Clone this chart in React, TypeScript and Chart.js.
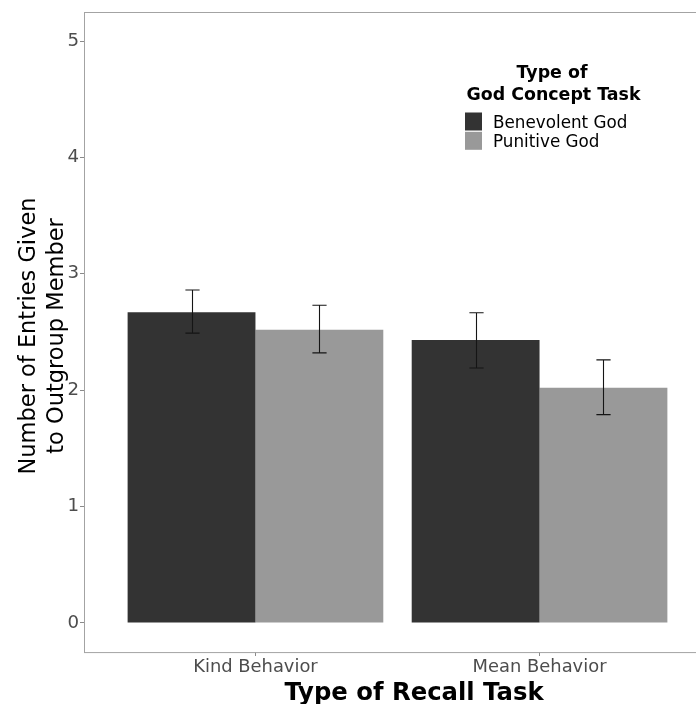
import React, { useEffect, useRef } from 'react';
import { Chart, registerables } from 'chart.js';
Chart.register(...registerables);

const FONT = '"DejaVu Sans", sans-serif';

const categories = ['Kind Behavior', 'Mean Behavior'];
const seriesNames = ['Benevolent God', 'Punitive God'];
const seriesColors = ['#333333', '#999999'];
const benevolentMeans = [2.67, 2.43];
const punitiveMeans = [2.52, 2.02];
const benevolentUpper = [2.86, 2.665];
const benevolentLower = [2.49, 2.19];
const punitiveUpper = [2.73, 2.26];
const punitiveLower = [2.32, 1.79];
const yTickValues = [0, 1, 2, 3, 4, 5];
const yTitleLines = ['Number of Entries Given', 'to Outgroup Member'];
const xTitle = 'Type of Recall Task';
const legendTitleLines = ['Type of', 'God Concept Task'];

export default function App() {
  const ref = useRef<HTMLCanvasElement>(null);

  useEffect(() => {
    const canvas = ref.current;
    if (!canvas) return;
    const means = [benevolentMeans, punitiveMeans];
    const errUpper = [benevolentUpper, punitiveUpper];
    const errLower = [benevolentLower, punitiveLower];
    const capWidth = 0.05;

    const overlay = {
      id: 'overlay',
      afterDatasetsDraw(chart: any) {
        const ctx = chart.ctx;
        const xs = chart.scales.x;
        const ys = chart.scales.y;
        const half = Math.abs(xs.getPixelForValue(1 + capWidth / 2) - xs.getPixelForValue(1));
        ctx.save();
        ctx.strokeStyle = '#151515';
        ctx.lineWidth = 1.1;
        chart.data.datasets.forEach((_ds: any, di: number) => {
          const meta = chart.getDatasetMeta(di);
          meta.data.forEach((bar: any, i: number) => {
            const cx = Math.round(bar.x) + 0.5;
            const yt = ys.getPixelForValue(errUpper[di][i]);
            const yb = ys.getPixelForValue(errLower[di][i]);
            ctx.beginPath();
            ctx.moveTo(cx, yt);
            ctx.lineTo(cx, yb);
            ctx.moveTo(cx - half, yt);
            ctx.lineTo(cx + half, yt);
            ctx.moveTo(cx - half, yb);
            ctx.lineTo(cx + half, yb);
            ctx.stroke();
          });
        });
        ctx.restore();
      },
      afterDraw(chart: any) {
        const ctx = chart.ctx;
        const a = chart.chartArea;
        ctx.save();
        // panel border
        ctx.strokeStyle = '#a3a3a3';
        ctx.lineWidth = 1;
        ctx.strokeRect(Math.round(a.left) - 0.5, Math.round(a.top) + 0.5, a.right - a.left, a.bottom - a.top);

        // y title
        ctx.fillStyle = '#000';
        ctx.font = `22.5px ${FONT}`;
        ctx.textAlign = 'center';
        ctx.textBaseline = 'alphabetic';
        ctx.save();
        ctx.translate(35, 336);
        ctx.rotate(-Math.PI / 2);
        yTitleLines.forEach((line, i) => ctx.fillText(line, 0, i * 28));
        ctx.restore();

        // x title
        ctx.font = `bold 24.3px ${FONT}`;
        ctx.textAlign = 'center';
        ctx.fillText(xTitle, 414, 700);

        // legend
        ctx.font = `bold 17.4px ${FONT}`;
        ctx.textAlign = 'center';
        ctx.fillText(legendTitleLines[0], 552, 78);
        ctx.fillText(legendTitleLines[1], 553.5, 100);
        ctx.font = `16.8px ${FONT}`;
        ctx.textAlign = 'left';
        seriesNames.forEach((name, i) => {
          const top = 112.5 + i * 19.3;
          ctx.fillStyle = seriesColors[i];
          ctx.fillRect(465, top, 17, 18);
          ctx.fillStyle = '#000';
          ctx.fillText(name, 493, top + 15.5);
        });
        ctx.restore();
      },
    };

    const chart = new Chart(canvas, {
      type: 'bar',
      data: {
        datasets: seriesNames.map((name, di) => ({
          label: name,
          data: means[di].map((v, i) => ({ x: i + 1, y: v })),
          backgroundColor: seriesColors[di],
          borderWidth: 0,
          categoryPercentage: 0.9,
          barPercentage: 1.0,
        })),
      },
      options: {
        animation: false,
        responsive: false,
        devicePixelRatio: 1,
        layout: { padding: { top: 9, right: 2, left: 0, bottom: 0 } },
        plugins: { legend: { display: false }, tooltip: { enabled: false } },
        scales: {
          x: {
            type: 'linear',
            min: 0.4,
            max: 2.6,
            offset: false,
            grid: { display: true, drawOnChartArea: false, offset: false, tickLength: 4, color: '#8a8a8a' },
            border: { display: false },
            afterBuildTicks: (scale: any) => {
              scale.ticks = categories.map((_c, i) => ({ value: i + 1 }));
            },
            afterFit: (scale: any) => {
              scale.height = 52;
            },
            ticks: {
              font: { family: FONT, size: 17.9 },
              color: '#4d4d4d',
              padding: 1,
              maxRotation: 0,
              autoSkip: false,
              callback: (v: any) => categories[Math.round(Number(v)) - 1] ?? '',
            },
          },
          y: {
            type: 'linear',
            min: -0.25,
            max: 5.25,
            grid: { display: true, drawOnChartArea: false, tickLength: 5, color: '#8a8a8a' },
            border: { display: false },
            afterBuildTicks: (scale: any) => {
              scale.ticks = yTickValues.map((v) => ({ value: v }));
            },
            afterFit: (scale: any) => {
              scale.width = 85;
            },
            ticks: {
              font: { family: FONT, size: 18.2 },
              color: '#4d4d4d',
              padding: 1,
              callback: (v: any) => String(v),
            },
          },
        },
      },
      plugins: [overlay],
    } as any);

    return () => chart.destroy();
  }, []);

  return (
    <div style={{ position: 'absolute', left: 0, top: 0, width: 696, height: 704, overflow: 'hidden', background: '#fff' }}>
      <canvas ref={ref} width={712} height={704} style={{ display: 'block' }} />
    </div>
  );
}
